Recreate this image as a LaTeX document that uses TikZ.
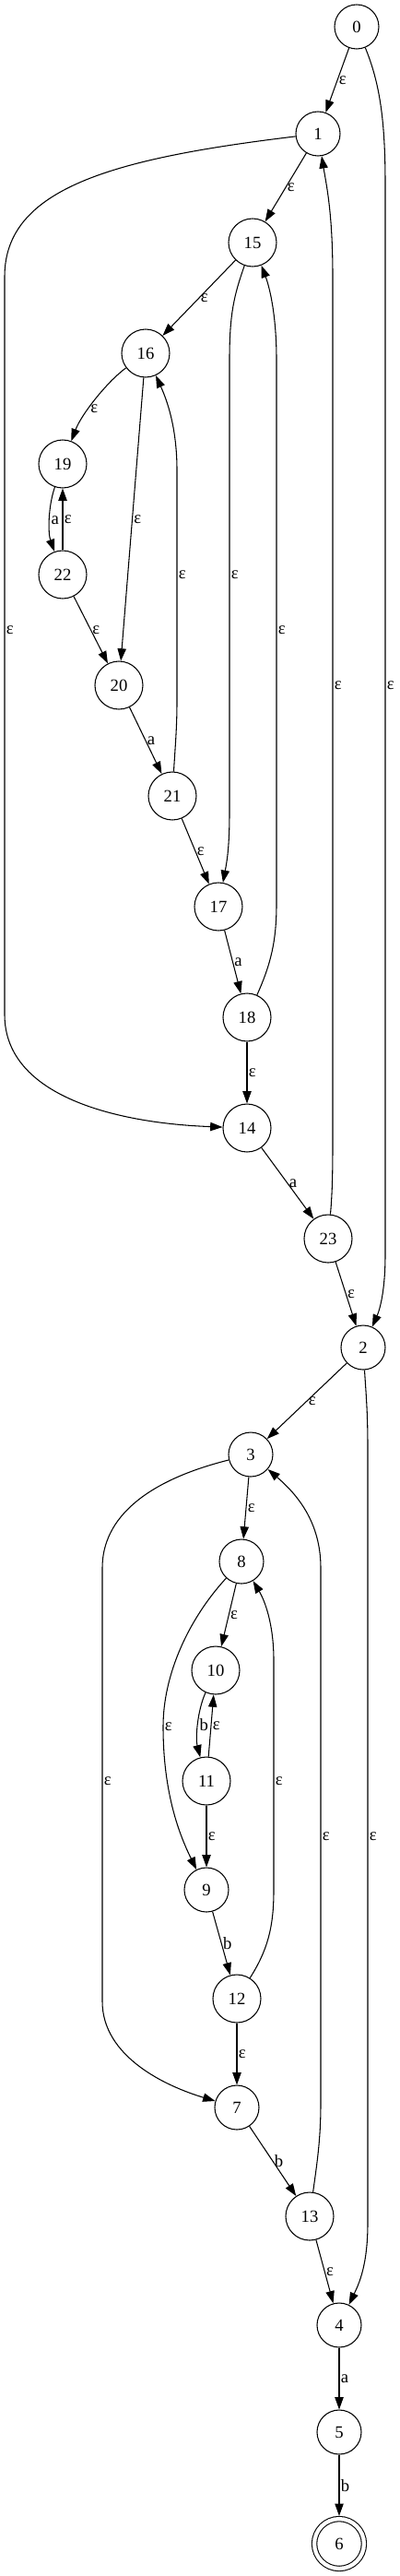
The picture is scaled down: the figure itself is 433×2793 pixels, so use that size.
\documentclass[tikz,border=0pt]{standalone}
\usepackage{fontspec}
\setmainfont{Liberation Serif}
\usetikzlibrary{arrows.meta}
\tikzset{
  st/.style={circle,draw,line width=0.8pt,inner sep=0pt,minimum size=36pt},
  stw/.style={st,minimum size=39pt},
  acc/.style={st,double,double distance=3.2pt,minimum size=40.4pt,outer sep=2.4pt},
  tran/.style={line width=0.8pt,-{Triangle[length=10pt,width=7pt]}},
  lbl/.style={anchor=west,inner sep=1pt}
}
\begin{document}
\begin{tikzpicture}[x=0.75pt,y=-0.75pt,font=\fontsize{14}{16}\selectfont]
\useasboundingbox (0,0) rectangle (433,2793);
% states
\foreach \n/\x/\y in {0/387/29,1/345/145,2/394/1461,3/272/1577,8/262/1693,9/224/2049,7/257/2285,4/368/2521,5/368/2637}
  \node[st] (n\n) at (\x,\y) {\n};
\foreach \n/\x/\y in {15/274/263,16/158/383,19/68/503,22/68/623,20/129/743,21/187/863,17/237/983,18/268/1103,14/268/1223,23/356/1343,10/234/1811,11/224/1931,12/257/2167,13/336/2403}
  \node[stw] (n\n) at (\x,\y) {\n};
\node[acc] (n6) at (368,2758) {6};
% straight moves
\foreach \a/\b/\t in {0/1/ε,1/15/ε,15/16/ε,16/20/ε,22/19/ε,22/20/ε,20/21/a,21/17/ε,17/18/a,18/14/ε,14/23/a,23/2/ε,2/3/ε,3/8/ε,8/10/ε,11/10/ε,11/9/ε,9/12/b,12/7/ε,7/13/b,13/4/ε,4/5/a,5/6/b}
  \draw[tran] (n\a) -- node[lbl,midway]{\t} (n\b);
% curved moves
\draw[tran] (n1) .. controls (120,172) and (5,205) .. (5,300) -- (5,683) node[lbl]{ε} -- (5,1100) .. controls (5,1190) and (130,1218) .. (n14);
\draw[tran] (n0) .. controls (412,90) and (418,130) .. (418,200) -- (418,743) node[lbl]{ε} -- (418,1360) .. controls (418,1400) and (412,1420) .. (n2);
\draw[tran] (n23) .. controls (360,1300) and (361,1280) .. (361,1240) -- (361,743) node[lbl]{ε} -- (361,300) .. controls (361,230) and (354,200) .. (n1);
\draw[tran] (n15) .. controls (254,320) and (249,340) .. (249,390) -- (249,623) node[lbl]{ε} -- (249,880) .. controls (249,920) and (246,935) .. (n17);
\draw[tran] (n18) .. controls (294,1045) and (300,1020) .. (300,980) -- (300,683) node[lbl]{ε} -- (300,390) .. controls (300,340) and (292,310) .. (n15);
\draw[tran] (n21) .. controls (190,810) and (192,790) .. (192,760) -- (192,623) node[lbl]{ε} -- (192,510) .. controls (192,470) and (184,440) .. (n16);
\draw[tran] (n16) .. controls (115,415) and (88,450) .. node[lbl,pos=.6]{ε} (n19);
\draw[tran] (n19) .. controls (52,550) and (52,578) .. node[lbl,midway]{a} (n22);
\draw[tran] (n10) .. controls (214,1855) and (212,1885) .. node[lbl,midway]{b} (n11);
\draw[tran] (n2) .. controls (397,1510) and (399,1530) .. (399,1570) -- (399,1991) node[lbl]{ε} -- (399,2410) .. controls (399,2455) and (390,2475) .. (n4);
\draw[tran] (n3) .. controls (160,1605) and (111,1645) .. (111,1700) -- (111,1931) node[lbl]{ε} -- (111,2170) .. controls (111,2230) and (180,2262) .. (n7);
\draw[tran] (n13) .. controls (344,2345) and (348,2320) .. (348,2280) -- (348,1991) node[lbl]{ε} -- (348,1700) .. controls (348,1650) and (322,1620) .. (n3);
\draw[tran] (n8) .. controls (205,1755) and (177,1815) .. (177,1872) node[lbl]{ε} .. controls (177,1945) and (195,1990) .. (n9);
\draw[tran] (n12) .. controls (290,2115) and (297,2090) .. (297,2050) -- (297,1931) node[lbl]{ε} -- (297,1800) .. controls (297,1760) and (287,1735) .. (n8);
\end{tikzpicture}
\end{document}
